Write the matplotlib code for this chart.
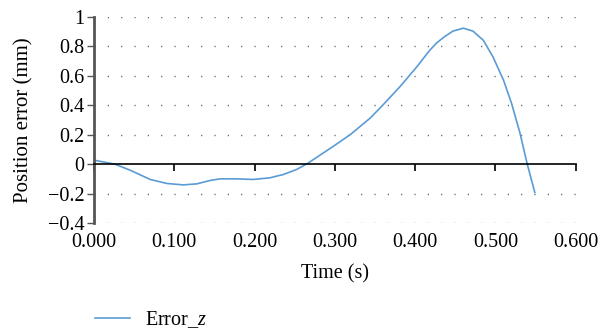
import matplotlib.pyplot as plt
import numpy as np

plt.rcParams['font.family'] = ['Liberation Serif', 'DejaVu Serif']
plt.rcParams['mathtext.fontset'] = 'custom'
plt.rcParams['mathtext.it'] = 'Liberation Serif:italic'

# data
time = [0.000, 0.026, 0.045, 0.070, 0.0905, 0.111, 0.128, 0.1445, 0.157, 0.1777,
        0.198, 0.219, 0.236, 0.2525, 0.266, 0.298, 0.319, 0.344, 0.360, 0.381,
        0.402, 0.418, 0.427, 0.437, 0.447, 0.460, 0.472, 0.485, 0.497, 0.510,
        0.520, 0.5305, 0.5395, 0.549]
error_z = [0.027, 0.000, -0.041, -0.104, -0.131, -0.141, -0.134, -0.111, -0.100, -0.100,
           -0.104, -0.093, -0.070, -0.036, 0.005, 0.121, 0.200, 0.313, 0.403, 0.526,
           0.661, 0.773, 0.825, 0.868, 0.904, 0.924, 0.904, 0.841, 0.728, 0.571,
           0.414, 0.212, 0.002, -0.192]

xticks = np.arange(0, 0.61, 0.1)
yticks = np.arange(-0.4, 1.01, 0.2)

fig = plt.figure(figsize=(6.01, 3.30), dpi=100)
ax = fig.add_axes([0.1564, 0.3242, 0.8016, 0.6243])

# dotted horizontal grid
for yv in yticks:
    if abs(yv) < 1e-9:
        continue
    ax.axhline(yv, color='#555555', lw=1.0, dashes=(0.8, 8.8), zorder=0)

line, = ax.plot(time, error_z, color='#5b9bd5', lw=1.2, label=r'Error_$z$')

ax.set_xlim(0, 0.6)
ax.set_ylim(-0.4, 1.0)

ax.spines['top'].set_visible(False)
ax.spines['right'].set_visible(False)
ax.spines['left'].set_color('#555555')
ax.spines['left'].set_linewidth(2)
ax.spines['bottom'].set_position(('data', 0))
ax.spines['bottom'].set_color('black')
ax.spines['bottom'].set_linewidth(1.2)

ax.set_xticks(xticks)
ax.tick_params(axis='x', direction='out', length=5, width=1.2, labelbottom=False)
ax.set_yticks(yticks)
ax.set_yticklabels(['\u22120.4', '\u22120.2', '0', '0.2', '0.4', '0.6', '0.8', '1'])
ax.tick_params(axis='y', direction='out', length=5, width=1, color='#555555',
               labelsize=14.5, pad=2)

sec = ax.secondary_xaxis('bottom')
sec.set_xticks(xticks)
sec.set_xticklabels(['%.3f' % v for v in xticks])
sec.tick_params(length=0, labelsize=14.5, pad=7)
sec.spines['bottom'].set_visible(False)
sec.set_xlabel('Time (s)', fontsize=14.5, labelpad=9)

ax.set_ylabel('Position error (mm)', fontsize=15, labelpad=10)

fig.legend(handles=[line], loc='lower left', bbox_to_anchor=(0.128, -0.055),
           frameon=False, fontsize=14.5, handlelength=1.75, handletextpad=0.75)

fig.savefig('out.png', dpi=100)
